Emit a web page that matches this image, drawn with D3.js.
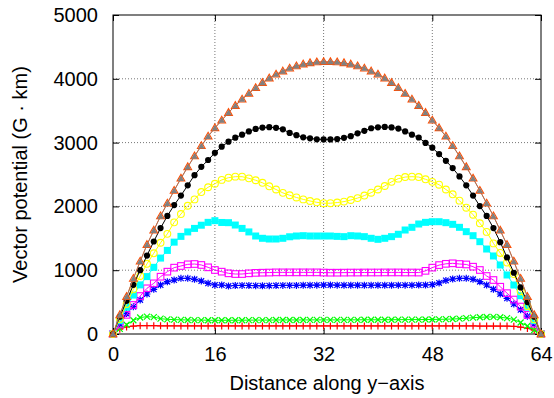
<!DOCTYPE html>
<html>
<head>
<meta charset="utf-8">
<script src="https://cdn.jsdelivr.net/npm/d3@7"></script>
<style>
  body { margin: 0; background: #fff; }
  svg { display: block; font-family: "Liberation Sans", Arial, Helvetica, sans-serif; }
</style>
</head>
<body>
<div id="chart"></div>
<script>
// grid index along y (1..64), tick labels as printed on the axis
const xIndex = d3.range(1, 65);
const xTickVals = [1, 16, 32, 48, 64];
const xTickLabels = ["0", "16", "32", "48", "64"];
const yTickVals = [0, 1000, 2000, 3000, 4000, 5000];

// series values (index 1..64)
const redPlus = [
  0, 75, 110, 125, 130, 130, 130, 128, 128, 128, 127, 127, 127, 126, 126, 126,
  126, 126, 126, 126, 126, 126, 126, 126, 126, 126, 126, 126, 126, 126, 126, 126,
  126, 126, 126, 126, 126, 126, 126, 126, 126, 126, 126, 126, 126, 126, 126, 126,
  126, 126, 126, 126, 126, 126, 125, 125, 125, 124, 124, 120, 108, 88, 60, 0];
const greenCross = [
  0, 80, 145, 215, 258, 272, 265, 240, 230, 225, 222, 220, 218, 218, 216, 215,
  215, 215, 216, 216, 217, 218, 218, 218, 220, 220, 220, 220, 220, 221, 221, 221,
  221, 221, 222, 222, 222, 223, 223, 223, 224, 224, 225, 225, 226, 226, 227, 228,
  230, 232, 235, 240, 248, 256, 262, 266, 268, 262, 250, 225, 180, 125, 62, 0];
const blueStar = [
  0, 160, 320, 428, 533, 627, 700, 768, 820, 846, 872, 872, 857, 830, 794, 768,
  768, 752, 760, 762, 760, 758, 755, 758, 760, 762, 762, 762, 765, 765, 766, 768,
  768, 766, 765, 765, 765, 764, 764, 765, 765, 765, 766, 766, 766, 767, 768, 775,
  800, 840, 862, 872, 872, 857, 820, 768, 700, 627, 559, 470, 380, 280, 160, 0];
const magentaSquare = [
  0, 150, 300, 455, 595, 716, 794, 898, 977, 1040, 1066, 1092, 1097, 1082, 1045, 1003,
  977, 951, 940, 940, 951, 958, 961, 963, 966, 966, 966, 966, 966, 966, 966, 963,
  961, 961, 962, 963, 963, 964, 964, 964, 965, 965, 965, 964, 964, 963, 990, 1040,
  1080, 1100, 1108, 1097, 1090, 1055, 1003, 909, 846, 741, 640, 540, 430, 300, 163, 0];
const cyanSquare = [
  0, 210, 420, 610, 770, 900, 1045, 1190, 1310, 1440, 1530, 1600, 1655, 1705, 1750, 1776,
  1748, 1745, 1708, 1655, 1600, 1536, 1500, 1489, 1489, 1500, 1524, 1536, 1541, 1536, 1536, 1536,
  1536, 1530, 1526, 1541, 1536, 1526, 1500, 1484, 1500, 1526, 1563, 1630, 1672, 1724, 1750, 1760,
  1760, 1745, 1719, 1672, 1604, 1541, 1447, 1332, 1223, 1082, 925, 768, 600, 420, 210, 0];
const yellowCircle = [
  0, 235, 470, 700, 910, 1100, 1265, 1430, 1570, 1750, 1880, 2010, 2110, 2225, 2300, 2355,
  2415, 2450, 2466, 2466, 2440, 2410, 2370, 2315, 2265, 2212, 2175, 2140, 2110, 2085, 2064, 2050,
  2050, 2060, 2075, 2100, 2130, 2170, 2215, 2265, 2320, 2385, 2435, 2460, 2466, 2460, 2425, 2385,
  2340, 2265, 2190, 2090, 1980, 1870, 1735, 1600, 1420, 1270, 1120, 940, 670, 440, 230, 0];
const blackCircle = [
  0, 270, 520, 770, 1000, 1230, 1450, 1660, 1850, 2020, 2170, 2330, 2490, 2620, 2727, 2840,
  2936, 3014, 3077, 3124, 3175, 3215, 3235, 3242, 3232, 3208, 3152, 3116, 3082, 3067, 3052, 3050,
  3050, 3055, 3075, 3100, 3145, 3185, 3225, 3240, 3245, 3238, 3220, 3175, 3125, 3080, 2995, 2920,
  2820, 2715, 2600, 2470, 2330, 2170, 2005, 1850, 1660, 1440, 1200, 960, 730, 500, 270, 0];
const orangeTriangle = [
  0, 300, 585, 870, 1140, 1400, 1625, 1850, 2050, 2250, 2440, 2620, 2790, 2950, 3100, 3230,
  3350, 3470, 3580, 3680, 3770, 3860, 3940, 4010, 4070, 4120, 4165, 4200, 4230, 4250, 4262, 4266,
  4266, 4262, 4250, 4230, 4200, 4165, 4120, 4070, 4010, 3940, 3860, 3770, 3680, 3580, 3470, 3350,
  3230, 3100, 2950, 2790, 2620, 2440, 2250, 2050, 1850, 1625, 1400, 1140, 870, 585, 300, 0];
const grayTriangle = [
  0, 296, 581, 866, 1136, 1396, 1621, 1846, 2046, 2246, 2436, 2616, 2786, 2946, 3096, 3228,
  3348, 3468, 3578, 3678, 3768, 3858, 3938, 4008, 4068, 4118, 4163, 4198, 4228, 4248, 4260, 4264,
  4264, 4260, 4248, 4228, 4198, 4163, 4118, 4068, 4008, 3938, 3858, 3768, 3678, 3578, 3468, 3348,
  3228, 3096, 2946, 2786, 2616, 2436, 2246, 2046, 1846, 1621, 1396, 1136, 866, 581, 296, 0];

const series = [
  { values: redPlus, color: "#ff0000", marker: "plus" },
  { values: greenCross, color: "#00ff00", marker: "cross" },
  { values: blueStar, color: "#0000ff", marker: "star" },
  { values: magentaSquare, color: "#ff00ff", marker: "openSquare" },
  { values: cyanSquare, color: "#00ffff", marker: "fillSquare" },
  { values: yellowCircle, color: "#ffff00", marker: "openCircle" },
  { values: blackCircle, color: "#000000", marker: "fillCircle" },
  { values: orangeTriangle, color: "#ff4d00", marker: "openTriangle" },
  { values: grayTriangle, color: "#808080", marker: "fillTriangle" }
];

const width = 554, height = 398;
const margin = { top: 15, right: 13, bottom: 64, left: 113 };

const svg = d3.select("#chart")
  .append("svg")
    .attr("width", width)
    .attr("height", height);

const x = d3.scaleLinear()
  .domain([1, 64])
  .range([margin.left, width - margin.right]);

const y = d3.scaleLinear()
  .domain([0, 5000])
  .range([height - margin.bottom, margin.top]);

// dotted grid
svg.append("g")
  .selectAll("line.vgrid")
  .data(xTickVals.slice(1, -1))
  .join("line")
    .attr("x1", d => x(d)).attr("x2", d => x(d))
    .attr("y1", y(0)).attr("y2", y(5000))
    .attr("stroke", "#777")
    .attr("stroke-width", 1)
    .attr("stroke-dasharray", "1,2");

svg.append("g")
  .selectAll("line.hgrid")
  .data(yTickVals.slice(1, -1))
  .join("line")
    .attr("x1", x(1)).attr("x2", x(64))
    .attr("y1", d => y(d)).attr("y2", d => y(d))
    .attr("stroke", "#777")
    .attr("stroke-width", 1)
    .attr("stroke-dasharray", "1,2");

// axes: inward ticks, mirrored on top and right
const tickLen = 6;
const xAxis = d3.axisBottom(x)
  .tickValues(xTickVals)
  .tickFormat((d, i) => xTickLabels[i])
  .tickSizeInner(-tickLen)
  .tickSizeOuter(0)
  .tickPadding(13);
const gx = svg.append("g")
  .attr("transform", `translate(0,${y(0)})`)
  .call(xAxis);

const yAxis = d3.axisLeft(y)
  .tickValues(yTickVals)
  .tickFormat(d3.format("d"))
  .tickSizeInner(-tickLen)
  .tickSizeOuter(0)
  .tickPadding(15);
const gy = svg.append("g")
  .attr("transform", `translate(${x(1)},0)`)
  .call(yAxis);

svg.append("g")
  .attr("transform", `translate(0,${y(5000)})`)
  .call(d3.axisTop(x).tickValues(xTickVals).tickFormat("").tickSizeInner(-tickLen).tickSizeOuter(0));
svg.append("g")
  .attr("transform", `translate(${x(64)},0)`)
  .call(d3.axisRight(y).tickValues(yTickVals).tickFormat("").tickSizeInner(-tickLen).tickSizeOuter(0));

svg.selectAll(".domain").remove();
svg.selectAll(".tick line").attr("stroke", "#000");
[gx, gy].forEach(g => g.selectAll("text")
  .attr("fill", "#000")
  .style("font-size", "20px")
  .style("font-family", "'Liberation Sans', Arial, sans-serif"));

// frame
svg.append("rect")
  .attr("x", x(1)).attr("y", y(5000))
  .attr("width", x(64) - x(1))
  .attr("height", y(0) - y(5000))
  .attr("fill", "none")
  .attr("stroke", "#000")
  .attr("stroke-width", 1);

// series: line then points
const line = d3.line()
  .x((d, i) => x(xIndex[i]))
  .y(d => y(d));

const tri = d3.symbol().type(d3.symbolTriangle);

function drawMarker(g, kind, color, cx, cy) {
  if (kind === "plus") {
    g.append("path").attr("d", `M${cx - 3.5},${cy}h7M${cx},${cy - 3.5}v7`)
      .attr("stroke", color).attr("stroke-width", 1.2).attr("fill", "none");
  } else if (kind === "cross") {
    g.append("path").attr("d", `M${cx - 3},${cy - 3}l6,6M${cx - 3},${cy + 3}l6,-6`)
      .attr("stroke", color).attr("stroke-width", 1.2).attr("fill", "none");
  } else if (kind === "star") {
    g.append("path").attr("d", `M${cx - 3.5},${cy}h7M${cx},${cy - 3.5}v7M${cx - 2.8},${cy - 2.8}l5.6,5.6M${cx - 2.8},${cy + 2.8}l5.6,-5.6`)
      .attr("stroke", color).attr("stroke-width", 1.2).attr("fill", "none");
  } else if (kind === "openSquare") {
    g.append("rect").attr("x", cx - 3.3).attr("y", cy - 3.3).attr("width", 6.6).attr("height", 6.6)
      .attr("fill", "none").attr("stroke", color).attr("stroke-width", 1.1);
  } else if (kind === "fillSquare") {
    g.append("rect").attr("x", cx - 3.5).attr("y", cy - 3.5).attr("width", 7).attr("height", 7)
      .attr("fill", color);
  } else if (kind === "openCircle") {
    g.append("circle").attr("cx", cx).attr("cy", cy).attr("r", 3.4)
      .attr("fill", "none").attr("stroke", color).attr("stroke-width", 1.1);
  } else if (kind === "fillCircle") {
    g.append("circle").attr("cx", cx).attr("cy", cy).attr("r", 3.1).attr("fill", color);
  } else if (kind === "openTriangle") {
    g.append("path").attr("d", tri.size(26)()).attr("transform", `translate(${cx},${cy + 0.5})`)
      .attr("fill", "none").attr("stroke", color).attr("stroke-width", 1.1);
  } else if (kind === "fillTriangle") {
    g.append("path").attr("d", tri.size(19)()).attr("transform", `translate(${cx},${cy + 0.5})`)
      .attr("fill", color);
  }
}

series.forEach(s => {
  const g = svg.append("g");
  g.append("path")
    .datum(s.values)
    .attr("d", line)
    .attr("fill", "none")
    .attr("stroke", s.color)
    .attr("stroke-opacity", s.marker === "fillTriangle" ? 0.7 : 1)
    .attr("stroke-width", 1);
  s.values.forEach((v, i) => drawMarker(g, s.marker, s.color, x(xIndex[i]), y(v)));
});

// axis titles
svg.append("text")
  .attr("x", (x(1) + x(64)) / 2)
  .attr("y", 390)
  .attr("text-anchor", "middle")
  .style("font-size", "20px")
  .text("Distance along y\u2212axis");

svg.append("text")
  .attr("transform", `translate(27,${(y(0) + y(5000)) / 2}) rotate(-90)`)
  .attr("text-anchor", "middle")
  .style("font-size", "20px")
  .text("Vector potential (G \u00b7 km)");
</script>
</body>
</html>
